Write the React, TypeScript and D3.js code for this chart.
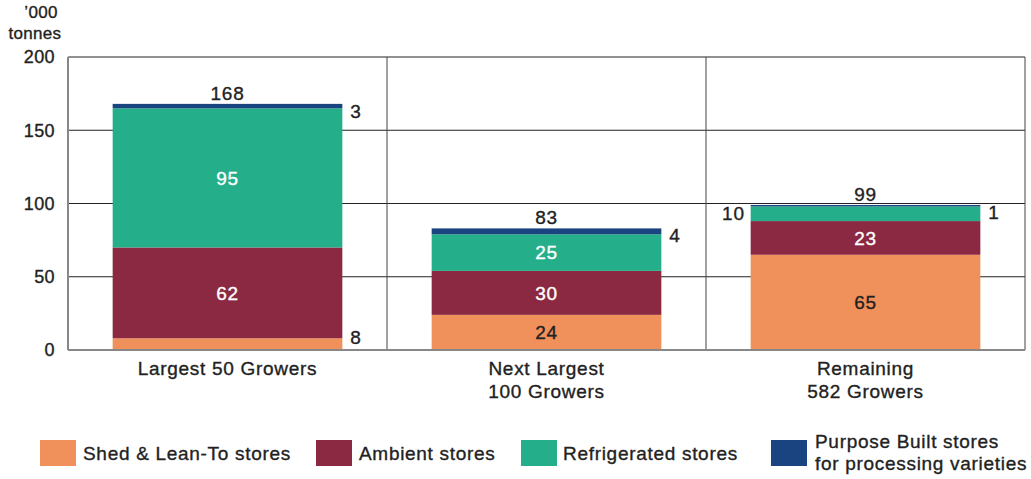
import React, { useEffect, useRef } from 'react';
import * as d3 from 'd3';

const categories = ['Largest 50 Growers', 'Next Largest\n100 Growers', 'Remaining\n582 Growers'];
const seriesNames = ['Shed & Lean-To stores', 'Ambient stores', 'Refrigerated stores', 'Purpose Built stores\nfor processing varieties'];
const shed = [8, 24, 65];
const ambient = [62, 30, 23];
const refrigerated = [95, 25, 10];
const purposeBuilt = [3, 4, 1];
const totals = [168, 83, 99];
const yTicks = [0, 50, 100, 150, 200];

const COLORS = ['#f0905a', '#8b2942', '#25ae8a', '#1a4480'];
const FONT = '"Liberation Sans", Arial, sans-serif';
const FS = 19;
const WIDTH = 1031;
const HEIGHT = 479;
const MARGIN = { top: 57, right: 6, bottom: 129, left: 68 };

const styleText = (sel: any, fill = '#222', size = FS, spacing = 0.7) =>
  sel
    .attr('font-family', FONT)
    .attr('font-size', size)
    .attr('letter-spacing', spacing)
    .attr('fill', fill)
    .attr('stroke', fill)
    .attr('stroke-width', 0.35);

const App = () => {
  const svgRef = useRef<SVGSVGElement | null>(null);

  useEffect(() => {
    if (!svgRef.current) return;
    const svg = d3.select(svgRef.current);
    svg.selectAll('*').remove();

    const chartWidth = WIDTH - MARGIN.left - MARGIN.right;
    const chartHeight = HEIGHT - MARGIN.top - MARGIN.bottom;

    const x = d3.scaleBand().domain(categories).range([0, chartWidth]).paddingInner(0).paddingOuter(0);
    const bw = x.bandwidth();
    const barW = bw * 0.72;
    const y = d3.scaleLinear().domain([0, 200]).range([chartHeight, 0]);

    const g = svg.append('g').attr('transform', `translate(${MARGIN.left},${MARGIN.top})`);

    // horizontal grid
    g.selectAll('.hgrid')
      .data(yTicks.filter(t => t > 0))
      .enter()
      .append('line')
      .attr('x1', 0)
      .attr('x2', chartWidth)
      .attr('y1', d => y(d))
      .attr('y2', d => y(d))
      .attr('stroke', '#222')
      .attr('stroke-width', 1);

    // vertical separators
    g.selectAll('.vgrid')
      .data(categories)
      .enter()
      .append('line')
      .attr('x1', d => (x(d) || 0) + bw)
      .attr('x2', d => (x(d) || 0) + bw)
      .attr('y1', 0)
      .attr('y2', chartHeight)
      .attr('stroke', '#444')
      .attr('stroke-width', 1);

    const rows = categories.map((c, i) => ({
      cat: c,
      values: [shed[i], ambient[i], refrigerated[i], purposeBuilt[i]],
    }));

    const stack = d3.stack<any>().keys(['0', '1', '2', '3']).value((d, k) => d.values[+k]);
    const stacked = stack(rows);

    stacked.forEach((layer, li) => {
      g.selectAll(`.bar-${li}`)
        .data(layer)
        .enter()
        .append('rect')
        .attr('x', d => (x(d.data.cat) || 0) + (bw - barW) / 2)
        .attr('width', barW)
        .attr('y', d => y(d[1]))
        .attr('height', d => y(d[0]) - y(d[1]))
        .attr('fill', COLORS[li]);
    });

    // axes lines
    g.append('line')
      .attr('x1', 0).attr('x2', chartWidth)
      .attr('y1', chartHeight).attr('y2', chartHeight)
      .attr('stroke', '#888').attr('stroke-width', 2);
    g.append('line')
      .attr('x1', 0).attr('x2', 0)
      .attr('y1', 0).attr('y2', chartHeight)
      .attr('stroke', '#888').attr('stroke-width', 2);

    // y tick labels
    styleText(
      g.selectAll('.ytick')
        .data(yTicks)
        .enter()
        .append('text')
        .attr('x', -13)
        .attr('y', d => y(d))
        .attr('dy', '0.35em')
        .attr('text-anchor', 'end'),
      '#222', 18, 0.4
    ).text(d => d);

    // unit label
    styleText(svg.append('text').attr('x', 41).attr('y', 18).attr('text-anchor', 'middle'), '#222', 17, 0.3).text('’000');
    styleText(svg.append('text').attr('x', 35).attr('y', 39).attr('text-anchor', 'middle'), '#222', 17, 0.3).text('tonnes');

    // category labels
    categories.forEach(c => {
      const lines = c.split('\n');
      const t = styleText(
        g.append('text')
          .attr('x', (x(c) || 0) + bw / 2)
          .attr('y', chartHeight + 25)
          .attr('text-anchor', 'middle')
      );
      lines.forEach((l, i) => {
        t.append('tspan').attr('x', (x(c) || 0) + bw / 2).attr('dy', i === 0 ? 0 : 23).text(l);
      });
    });

    // value labels
    const label = (tx: number, ty: number, txt: string, fill: string, anchor = 'middle') => {
      styleText(
        g.append('text')
          .attr('x', tx).attr('y', ty).attr('dy', '0.35em')
          .attr('text-anchor', anchor),
        fill
      ).text(txt);
    };

    rows.forEach((r, i) => {
      const cx = (x(r.cat) || 0) + bw / 2;
      const right = cx + barW / 2 + 8;
      const left = cx - barW / 2 - 6;
      const s = stacked.map(layer => layer[i]);
      // shed
      if (r.values[0] >= 15) label(cx, y((s[0][0] + s[0][1]) / 2), String(r.values[0]), '#222');
      else label(right, y(s[0][1]) - 1, String(r.values[0]), '#222', 'start');
      // ambient
      label(cx, y((s[1][0] + s[1][1]) / 2), String(r.values[1]), '#fff');
      // refrigerated
      if (r.values[2] >= 15) label(cx, y((s[2][0] + s[2][1]) / 2), String(r.values[2]), '#fff');
      else label(left, y((s[2][0] + s[2][1]) / 2), String(r.values[2]), '#222', 'end');
      // purpose built
      label(right, y(s[3][1]) + 7, String(r.values[3]), '#222', 'start');
      // total
      label(cx, y(s[3][1]) - 11, String(totals[i]), '#222');
    });

    // legend
    const legendItems = [
      { x: 40, tx: 83 },
      { x: 316, tx: 359 },
      { x: 521, tx: 563 },
      { x: 771, tx: 815 },
    ];
    seriesNames.forEach((name, i) => {
      const it = legendItems[i];
      svg.append('rect')
        .attr('x', it.x).attr('y', 440).attr('width', 36).attr('height', 26)
        .attr('fill', COLORS[i]);
      const lines = name.split('\n');
      const t = styleText(
        svg.append('text')
          .attr('x', it.tx)
          .attr('y', lines.length > 1 ? 448 : 460)
      );
      lines.forEach((l, j) => {
        t.append('tspan').attr('x', it.tx).attr('dy', j === 0 ? 0 : 22).text(l);
      });
    });
  }, []);

  return (
    <div style={{ width: WIDTH, height: HEIGHT }}>
      <svg ref={svgRef} width={WIDTH} height={HEIGHT} style={{ position: 'absolute', left: 0, top: 0 }} />
    </div>
  );
};

export default App;
